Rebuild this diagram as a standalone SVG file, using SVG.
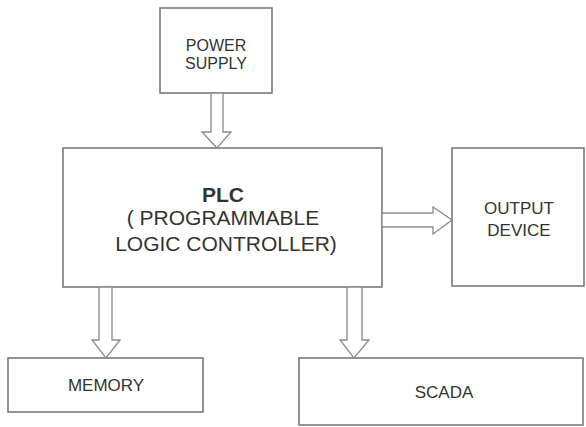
<svg xmlns="http://www.w3.org/2000/svg" width="586" height="427" viewBox="0 0 586 427">
<style>
.box{fill:#fff;stroke:#7a7a7a;stroke-width:1.6}
.arr{fill:#fff;stroke:#8a8a8a;stroke-width:1.3;stroke-linejoin:miter}
.t{font-family:"Liberation Sans",Arial,sans-serif;fill:#333;text-anchor:middle}
.s{font-size:17px}
.p{font-size:16px}
.l{font-size:21px}
.b{font-weight:bold}
</style>
<rect width="586" height="427" fill="#fff"/>
<g id="power">
<rect class="box" x="160" y="8" width="112" height="85"/>
<text class="t p" x="216" y="51">POWER</text>
<text class="t p" x="216" y="69">SUPPLY</text>
</g>
<g id="plc">
<rect class="box" x="63" y="148" width="319" height="139"/>
<text class="t l b" x="223" y="202">PLC</text>
<text class="t l" x="223" y="225">( PROGRAMMABLE</text>
<text class="t l" x="226" y="251">LOGIC CONTROLLER)</text>
</g>
<g id="output">
<rect class="box" x="452" y="148" width="132" height="138"/>
<text class="t s" x="519" y="214">OUTPUT</text>
<text class="t s" x="519" y="236">DEVICE</text>
</g>
<g id="memory">
<rect class="box" x="8" y="358" width="195" height="54"/>
<text class="t s" x="106" y="391">MEMORY</text>
</g>
<g id="scada">
<rect class="box" x="299" y="358" width="284" height="67"/>
<text class="t s" x="444" y="398">SCADA</text>
</g>
<g id="connectors">
<polygon class="arr" points="211,93 223,93 223,132 231,132 217,148 202,132 211,132"/>
<polygon class="arr" points="382,213 433,213 433,207 452,220 433,234 433,227 382,227"/>
<polygon class="arr" points="99,287 112,287 112,340 120,340 106,358 92,340 99,340"/>
<polygon class="arr" points="347,287 362,287 362,340 369,340 354,358 340,340 347,340"/>
</g>
</svg>
